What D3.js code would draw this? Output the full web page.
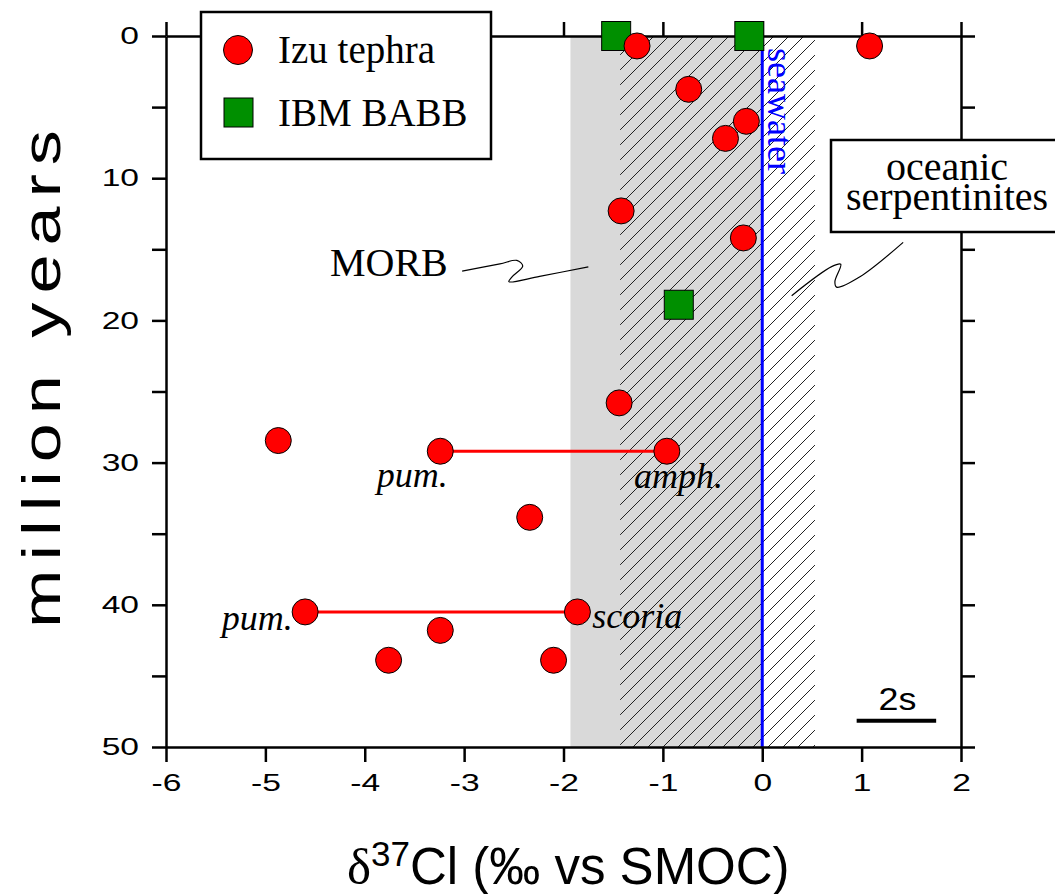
<!DOCTYPE html>
<html>
  <head>
    <style>
      body {
        margin: 0;
        background: #fff;
      }
      svg {
        display: block;
      }
      .axis path, .axis line {
        stroke: #000;
        stroke-width: 2.5px;
      }
      .axis text {
        font-family: "Liberation Sans", Arial, sans-serif;
        font-size: 24px;
        fill: #000;
      }
      .serif {
        font-family: "Liberation Serif", "Times New Roman", serif;
      }
    </style>
  </head>
  <body>
    <script src="https://d3js.org/d3.v7.min.js"></script>
    <script>
      // Izu tephra (circles)
      const tephraD37 = [-1.26, 1.08, -0.74, -0.16, -0.37, -1.42, -0.19, -1.44, -4.87,
                         -3.24, -0.96, -2.34, -4.60, -1.86, -3.24, -3.76, -2.10];
      const tephraAge = [0.7, 0.7, 3.75, 6.0, 7.2, 12.3, 14.2, 25.8, 28.45,
                         29.2, 29.2, 33.85, 40.5, 40.5, 41.8, 43.9, 43.9];
      // IBM BABB (squares)
      const babbD37 = [-1.47, -0.13, -0.84];
      const babbAge = [0, 0, 18.9];
      // tie lines between paired samples: [x1, x2, age]
      const pairs = [[-3.24, -0.96, 29.2], [-4.60, -1.86, 40.5]];
      // reference ranges
      const morbRange = [-1.93, 0];
      const serpRange = [-1.43, 0.53];
      const seawater = 0;
      const xTicks = [-6, -5, -4, -3, -2, -1, 0, 1, 2];
      const yTicks = [0, 5, 10, 15, 20, 25, 30, 35, 40, 45, 50];

      const W = 1055, H = 894;
      const margin = {left: 166, top: 36, right: 94, bottom: 147};

      const svg = d3.select("body").append("svg")
          .attr("width", W)
          .attr("height", H);

      const x = d3.scaleLinear().domain([-6, 2]).range([margin.left, W - margin.right]);
      const y = d3.scaleLinear().domain([0, 50]).range([margin.top, H - margin.bottom]);

      const defs = svg.append("defs");
      defs.append("pattern")
          .attr("id", "hatch")
          .attr("patternUnits", "userSpaceOnUse")
          .attr("width", 15)
          .attr("height", 15)
        .append("path")
          .attr("d", "M0,15 L15,0 M-4,4 L4,-4 M11,19 L19,11")
          .attr("stroke", "#222")
          .attr("stroke-width", 1);

      // MORB grey band
      svg.append("rect")
          .attr("x", x(morbRange[0]))
          .attr("y", y(0))
          .attr("width", x(morbRange[1]) - x(morbRange[0]))
          .attr("height", y(50) - y(0))
          .attr("fill", "#d9d9d9");

      // serpentinite hatched band
      svg.append("rect")
          .attr("x", x(serpRange[0]))
          .attr("y", y(0))
          .attr("width", x(serpRange[1]) - x(serpRange[0]))
          .attr("height", y(50) - y(0))
          .attr("fill", "url(#hatch)");

      // seawater line
      svg.append("line")
          .attr("x1", x(seawater)).attr("x2", x(seawater))
          .attr("y1", y(0)).attr("y2", y(50))
          .attr("stroke", "#0000ff")
          .attr("stroke-width", 3);

      svg.append("text")
          .attr("class", "serif")
          .attr("transform", `translate(${x(seawater) + 6},${y(0.85)}) rotate(90)`)
          .attr("font-size", 36)
          .attr("fill", "#0000ff")
          .text("seawater");

      // axes
      const fmt = d => String(d);
      svg.append("g")
          .attr("class", "axis bottom")
          .attr("transform", `translate(0,${y(50)})`)
          .call(d3.axisBottom(x).tickValues(xTicks).tickSize(15).tickSizeOuter(0).tickPadding(12).tickFormat(fmt));
      svg.append("g")
          .attr("class", "axis")
          .attr("transform", `translate(0,${y(0)})`)
          .call(d3.axisTop(x).tickValues(xTicks).tickSize(14).tickSizeOuter(0).tickFormat(""));
      svg.append("g")
          .attr("class", "axis left")
          .attr("transform", `translate(${x(-6)},0)`)
          .call(d3.axisLeft(y).tickValues(yTicks).tickSize(14).tickSizeOuter(0)
            .tickFormat(d => d % 10 === 0 ? fmt(d) : ""));
      svg.append("g")
          .attr("class", "axis")
          .attr("transform", `translate(${x(2)},0)`)
          .call(d3.axisRight(y).tickValues(yTicks).tickSize(14).tickSizeOuter(0).tickFormat(""));

      // stretch tick labels horizontally like the original
      svg.selectAll(".bottom .tick text")
          .attr("transform", "scale(1.4,1)");
      svg.selectAll(".left .tick text")
          .attr("x", 0)
          .attr("transform", "translate(-27,0) scale(1.4,1)");

      // tie lines
      svg.selectAll(".pair")
          .data(pairs)
          .join("line")
          .attr("class", "pair")
          .attr("x1", d => x(d[0]))
          .attr("x2", d => x(d[1]))
          .attr("y1", d => y(d[2]))
          .attr("y2", d => y(d[2]))
          .attr("stroke", "#ff0000")
          .attr("stroke-width", 3);

      // squiggly leader lines (data units)
      const morbLeader = [[-3.02, 16.53], [-2.64, 16.03], [-2.47, 15.78], [-2.41, 16.17],
                          [-2.52, 16.95], [-2.55, 17.28], [-2.24, 16.90], [-1.75, 16.24]];
      const serpLeader = [[0.296, 18.26], [0.698, 16.22], [0.79, 16.05], [0.731, 17.28],
                          [0.748, 17.66], [0.983, 16.93], [1.418, 14.51]];
      const leader = d3.line()
          .x(d => x(d[0]))
          .y(d => y(d[1]))
          .curve(d3.curveCatmullRom);
      svg.selectAll(".leader")
          .data([morbLeader, serpLeader])
          .join("path")
          .attr("class", "leader")
          .attr("d", leader)
          .attr("fill", "none")
          .attr("stroke", "#000")
          .attr("stroke-width", 1.2);

      svg.append("text")
          .attr("class", "serif")
          .attr("x", x(-4.35))
          .attr("y", y(16.9))
          .attr("font-size", 40)
          .text("MORB");

      // oceanic serpentinites label box
      svg.append("rect")
          .attr("x", 831)
          .attr("y", 140)
          .attr("width", 260)
          .attr("height", 92)
          .attr("fill", "#fff")
          .attr("stroke", "#000")
          .attr("stroke-width", 2.5);
      svg.append("text")
          .attr("class", "serif")
          .attr("x", 947)
          .attr("y", 180)
          .attr("font-size", 40)
          .attr("text-anchor", "middle")
          .text("oceanic");
      svg.append("text")
          .attr("class", "serif")
          .attr("x", 947)
          .attr("y", 210)
          .attr("font-size", 40)
          .attr("text-anchor", "middle")
          .text("serpentinites");

      // BABB squares
      const sq = 29;
      svg.selectAll(".babb")
          .data(babbD37.map((d, i) => [d, babbAge[i]]))
          .join("rect")
          .attr("class", "babb")
          .attr("x", d => x(d[0]) - sq / 2)
          .attr("y", d => y(d[1]) - sq / 2)
          .attr("width", sq)
          .attr("height", sq)
          .attr("fill", "#008f00")
          .attr("stroke", "#000")
          .attr("stroke-width", 1);

      // Izu tephra circles
      svg.selectAll(".tephra")
          .data(tephraD37.map((d, i) => [d, tephraAge[i]]))
          .join("circle")
          .attr("class", "tephra")
          .attr("cx", d => x(d[0]))
          .attr("cy", d => y(d[1]))
          .attr("r", 13)
          .attr("fill", "#ff0000")
          .attr("stroke", "#000")
          .attr("stroke-width", 1);

      // sample-type labels
      const sampleLabels = [
        {text: "pum.", x: -3.88, y: 31.7},
        {text: "amph.", x: -1.29, y: 31.8},
        {text: "pum.", x: -5.44, y: 41.8},
        {text: "scoria", x: -1.71, y: 41.6}
      ];
      svg.selectAll(".slabel")
          .data(sampleLabels)
          .join("text")
          .attr("class", "slabel serif")
          .attr("x", d => x(d.x))
          .attr("y", d => y(d.y))
          .attr("font-size", 36)
          .attr("font-style", "italic")
          .text(d => d.text);

      // 2s scale bar
      svg.append("line")
          .attr("x1", x(0.95)).attr("x2", x(1.75))
          .attr("y1", y(48.15)).attr("y2", y(48.15))
          .attr("stroke", "#000")
          .attr("stroke-width", 4);
      svg.append("text")
          .attr("transform", `translate(${x(1.36)},${y(47.4)}) scale(1.12,1)`)
          .attr("text-anchor", "middle")
          .attr("font-family", "Liberation Sans, Arial, sans-serif")
          .attr("font-size", 32)
          .text("2s");

      // legend
      const lg = svg.append("g");
      lg.append("rect")
          .attr("x", 201).attr("y", 12)
          .attr("width", 290).attr("height", 147)
          .attr("fill", "#fff")
          .attr("stroke", "#000")
          .attr("stroke-width", 2.5);
      lg.append("circle")
          .attr("cx", 238).attr("cy", 50).attr("r", 14.5)
          .attr("fill", "#ff0000").attr("stroke", "#000");
      lg.append("rect")
          .attr("x", 224).attr("y", 98).attr("width", 29).attr("height", 29)
          .attr("fill", "#008f00").attr("stroke", "#000");
      lg.append("text")
          .attr("class", "serif")
          .attr("x", 278).attr("y", 63)
          .attr("font-size", 39)
          .text("Izu tephra");
      lg.append("text")
          .attr("class", "serif")
          .attr("x", 278).attr("y", 126)
          .attr("font-size", 39)
          .text("IBM BABB");

      // axis titles
      svg.append("text")
          .attr("transform", "translate(60,379) rotate(-90) scale(1.3,1)")
          .attr("text-anchor", "middle")
          .attr("font-family", "Liberation Sans, Arial, sans-serif")
          .attr("font-size", 54)
          .attr("textLength", 383)
          .attr("lengthAdjust", "spacing")
          .text("million years");

      const xt = svg.append("text")
          .attr("x", 347)
          .attr("y", 884)
          .attr("font-family", "Liberation Sans, Arial, sans-serif")
          .attr("font-size", 51);
      xt.append("tspan")
          .attr("font-family", "Liberation Serif, Times New Roman, serif")
          .text("δ");
      xt.append("tspan")
          .attr("font-size", 35)
          .attr("dy", -18)
          .text("37");
      xt.append("tspan")
          .attr("dy", 18)
          .text("Cl (‰ vs SMOC)");
    </script>
  </body>
</html>
